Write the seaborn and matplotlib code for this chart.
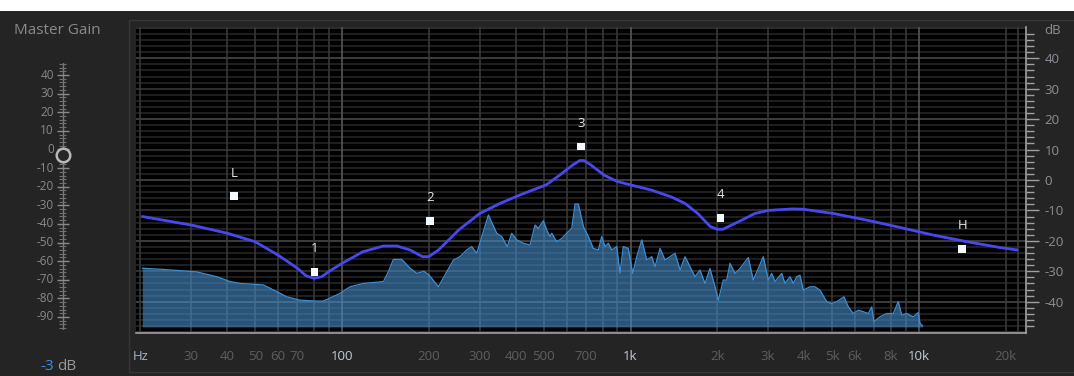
import numpy as np
import matplotlib
matplotlib.use("Agg")
import matplotlib.pyplot as plt
import seaborn as sns
from matplotlib.patches import Rectangle
from matplotlib.ticker import FixedLocator, NullLocator

# ---------------- data ----------------
eq_freq = [20.3, 30, 40, 50, 60, 70, 75, 80, 85, 90, 100, 118, 139, 155, 172, 190, 200,
           216, 254, 300, 353, 414, 510, 568, 630, 667, 690, 730, 810, 900, 1000, 1180,
           1380, 1545, 1710, 1890, 2000, 2090, 2430, 2700, 3000, 3650, 3960, 5040, 6600,
           8600, 11200, 14700, 19100, 21900]
eq_db = [-12.0, -14.8, -17.5, -20.3, -24.7, -29.0, -31.5, -32.3, -31.8, -30.1, -27.4,
         -23.6, -21.7, -21.7, -23.0, -25.2, -25.2, -23.0, -16.4, -11.0, -7.7, -4.9, -1.6,
         1.6, 4.9, 6.4, 6.4, 4.9, 1.6, -0.5, -1.6, -3.3, -5.5, -7.7, -11.0, -15.3, -16.2,
         -16.2, -13.2, -11.0, -10.0, -9.5, -9.6, -11.0, -13.2, -15.6, -18.1, -20.3, -22.2,
         -23.0]

spec_freq = [20.3, 24.0, 31.3, 36.8, 40.9, 44.3, 53.4, 59.4, 64.3, 71.5, 81.7, 86.1, 98.4,
             106.6, 118.5, 139.1, 144.7, 150.6, 161.0, 172.1, 181.5, 192, 200, 215.8, 243.2,
             256.4, 270.5, 281.6, 293, 321.6, 343.7, 357.7, 374.1, 387.3, 403.2, 425.3,
             448.4, 466.7, 479.3, 498.7, 512.2, 526, 533.1, 554.9, 577.5, 600.9, 625.6,
             642.3, 659.5, 686.3, 714.2, 743.2, 773.5, 794.4, 815.8, 837.8, 860.6, 895.6,
             919.4, 944.1, 982.6, 1017.6, 1051, 1094, 1138, 1185, 1216, 1266, 1317, 1371,
             1427, 1485, 1545, 1608, 1673, 1741, 1812, 1886, 1963, 2016, 2098, 2155, 2213,
             2303, 2396, 2560, 2665, 2886, 3004, 3086, 3169, 3343, 3432, 3572, 3667, 3768,
             3868, 3972, 4190, 4360, 4538, 4787, 4983, 5186, 5397, 5496, 5688, 5920, 6162,
             6412, 6674, 6855, 6982, 7322, 7727, 8147, 8478, 8710, 9065, 9557, 9945, 10081,
             10299]
spec_db = [-29.0, -29.4, -30.2, -31.8, -33.4, -34.0, -34.5, -36.7, -38.4, -39.5, -39.8,
           -39.8, -37.3, -35.1, -34.0, -33.4, -30.2, -26.1, -26.1, -29.0, -30.7, -30.0,
           -31.2, -35.1, -26.3, -25.2, -23.0, -21.9, -24.1, -11.5, -17.5, -18.6, -21.9,
           -17.5, -19.7, -20.8, -21.4, -14.8, -15.9, -13.4, -16.4, -18.6, -17.5, -20.3,
           -19.2, -17.5, -15.9, -7.9, -7.9, -15.3, -18.6, -22.5, -23.0, -18.6, -21.9,
           -20.8, -23.0, -21.9, -30.7, -21.9, -22.5, -30.7, -25.2, -19.7, -26.3, -25.2,
           -28.5, -22.5, -26.3, -25.2, -24.1, -29.6, -25.2, -28.5, -31.8, -29.6, -34.0,
           -29.1, -35.1, -39.5, -32.9, -32.9, -27.4, -30.7, -29.1, -25.5, -32.9, -25.2,
           -32.9, -30.7, -33.4, -30.7, -34.0, -31.8, -34.0, -31.8, -31.3, -36.2, -35.1,
           -35.1, -36.2, -40.0, -40.6, -40.0, -38.9, -38.4, -41.7, -43.9, -42.8, -43.3,
           -43.9, -41.7, -46.6, -45.0, -43.9, -43.9, -40.0, -44.4, -43.9, -45.0, -43.6,
           -47.1, -48.0]
spec_floor = -48.3

band_labels = ["L", "1", "2", "3", "4", "H"]
band_freq = [42.3, 80.2, 201.8, 672, 2054, 14130]
band_gain = [-5.3, -30.2, -13.4, 11.0, -12.4, -22.6]

x_major = [20, 100, 1000, 10000, 20000, 22050]
x_major_labels = ["Hz", "100", "1k", "10k", "20k", ""]
x_minor = [30, 40, 50, 60, 70, 80, 90, 200, 300, 400, 500, 600, 700, 800, 900,
           2000, 3000, 4000, 5000, 6000, 7000, 8000, 9000]
x_minor_labels = ["30", "40", "50", "60", "70", "", "", "200", "300", "400", "500", "",
                  "700", "", "", "2k", "3k", "4k", "5k", "6k", "", "8k", ""]
y_ticks = [40, 30, 20, 10, 0, -10, -20, -30, -40]
y_minor = list(range(-48, 49, 2))

gain_ticks = [40, 30, 20, 10, 0, -10, -20, -30, -40, -50, -60, -70, -80, -90]
master_gain = -3

# ---------------- style ----------------
sns.set_theme(style="dark")
plt.rcParams["font.family"] = ["Open Sans", "DejaVu Sans"]

W, H = 1074, 376
BG = "#242424"
fig = plt.figure(figsize=(W / 100, H / 100), dpi=100, facecolor=BG)


def fr(x0, y0, x1, y1):
    return [x0 / W, 1 - y1 / H, (x1 - x0) / W, (y1 - y0) / H]


def px(x, y):
    return x / W, 1 - y / H


# window decorations
fig.patches.append(Rectangle((0, 1 - 11 / H), 1, 11 / H, transform=fig.transFigure,
                             facecolor="white", edgecolor="none", zorder=0))
fig.patches.append(Rectangle(px(128.5, 371.5), 1, (371.5 - 19.5) / H,
                             transform=fig.transFigure, facecolor="none",
                             edgecolor="#363636", lw=1.0, zorder=0))

# ---------------- main axes ----------------
ax = fig.add_axes(fr(136, 27, 1026, 333))
ax.set_facecolor("#000000")
ax.set_xscale("log")
ax.set_xlim(19.3, 23500)
ax.set_ylim(-50.3, 50.3)

# grid
for v in range(-50, 51, 2):
    if v % 20 == 0:
        c = "#4e4e4e"
    elif v % 10 == 0:
        c = "#3a3a3a"
    else:
        c = "#282828"
    ax.axhline(v, color=c, lw=1.1, zorder=1)
for f in x_major + x_minor:
    c = "#5c5c5c" if f in (100, 1000, 10000) else "#3c3c3c"
    ax.axvline(f, color=c, lw=1.1, zorder=1)

# spectrum
ax.fill_between(spec_freq, spec_floor, spec_db, color="#468cc8", alpha=0.6, lw=0, zorder=2)
sns.lineplot(x=spec_freq, y=spec_db, ax=ax, color="#3b8fd6", lw=0.9, zorder=3,
             estimator=None, sort=False)

# EQ curve
sns.lineplot(x=eq_freq, y=eq_db, ax=ax, color="#4848ee", lw=2.0, zorder=4,
             estimator=None, sort=False)

# band handles
sns.scatterplot(x=band_freq, y=band_gain, ax=ax, marker="s", s=30, color="#f2faff",
                edgecolor="none", zorder=5)
for lab, f, g in zip(band_labels, band_freq, band_gain):
    ax.annotate(lab, (f, g), xytext=(0, 23), textcoords="offset pixels", ha="center",
                va="center", color="#e8e8e8", fontsize=9.5, zorder=6)

# spines
for s in ("top", "left"):
    ax.spines[s].set_visible(False)
for s in ("bottom", "right"):
    ax.spines[s].set_visible(True)
    ax.spines[s].set_color("#a0a0a0")
    ax.spines[s].set_linewidth(1.2)

# y ticks (right)
ax.yaxis.tick_right()
ax.yaxis.set_major_locator(FixedLocator(y_ticks))
ax.yaxis.set_minor_locator(FixedLocator(y_minor))
ax.set_yticklabels([str(v) for v in y_ticks])
ax.tick_params(axis="y", which="major", direction="out", length=9.6, width=1,
               color="#a0a0a0", labelcolor="#8c9096", labelsize=9.5, pad=3.6,
               left=False, right=True)
ax.tick_params(axis="y", which="minor", direction="out", length=6, width=1,
               color="#a0a0a0", left=False, right=True)

# x ticks
ax.xaxis.set_major_locator(FixedLocator(x_major))
ax.xaxis.set_minor_locator(FixedLocator(x_minor))
maj_txt = ax.set_xticklabels(x_major_labels)
min_txt = ax.set_xticklabels(x_minor_labels, minor=True)
ax.tick_params(axis="x", which="major", direction="out", length=8.6, width=1,
               color="#a0a0a0", labelsize=9.5, pad=3.4, labelcolor="#5e5e5e")
ax.tick_params(axis="x", which="minor", direction="out", length=5.8, width=1,
               color="#a0a0a0", labelsize=9.5, pad=6.2, labelcolor="#5e5e5e")
for t in ax.xaxis.get_major_ticks():
    txt = t.label1.get_text()
    if txt in ("100", "1k", "10k"):
        t.label1.set_color("#c4ccd6")
    elif txt == "Hz":
        t.label1.set_color("#9fb3cc")

fig.text(*px(1044, 31), "dB", color="#8c9096", fontsize=9.5, ha="left", va="center")

# ---------------- master gain panel ----------------
fig.text(*px(14, 31), "Master Gain", color="#8a8a8a", fontsize=11, ha="left", va="center")

g_top = 40 + 12 / 1.8615
g_bot = -90 - 13 / 1.8615
sax = fig.add_axes(fr(30, 63, 90, 330))
sax.set_xlim(30, 90)
sax.set_ylim(g_bot, g_top)
sax.set_facecolor("none")
sax.axis("off")
sax.plot([62.5, 62.5], [g_bot, g_top], color="#7a7a7a", lw=1.0)
sax.hlines(np.arange(-96, 47, 2), 59, 66, color="#707070", lw=0.8)
sax.hlines(gain_ticks, 56.5, 68.5, color="#8a8a8a", lw=1.0)
for g in gain_ticks:
    sax.text(54, g, str(g), ha="right", va="center", color="#8a8a8a", fontsize=8.5)
sns.scatterplot(x=[62.5], y=[master_gain], ax=sax, s=95, color="#262626",
                edgecolor="#b8b8b8", linewidth=1.8, zorder=5, clip_on=False)

fig.text(*px(40, 366), f"{master_gain}", color="#3b8ee8", fontsize=11, ha="left", va="center")
fig.text(*px(57, 366), "dB", color="#9a9a9a", fontsize=11, ha="left", va="center")

fig.savefig("out.png", dpi=100, facecolor=BG)
